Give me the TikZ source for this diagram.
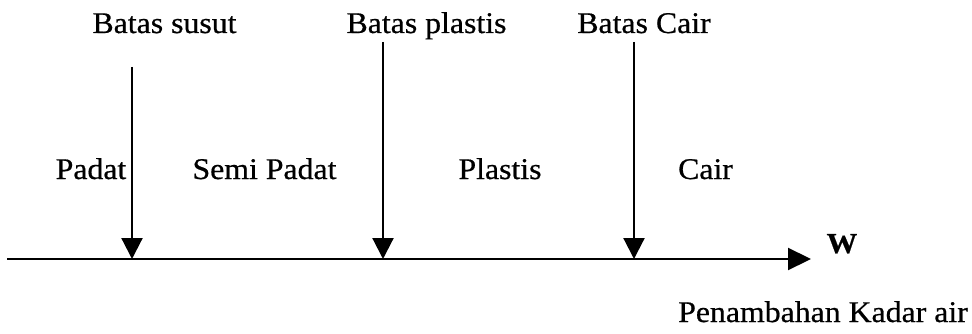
\documentclass[tikz,border=0pt]{standalone}
\usepackage{fontspec}
\setmainfont{Liberation Serif}[FakeStretch=1.06,FakeBold=0.6]
\usetikzlibrary{arrows.meta}
\begin{document}
\begin{tikzpicture}[x=1pt,y=-1pt,
  lbl/.style={inner sep=0pt,anchor=base,font=\fontsize{30}{34}\selectfont},
  axis/.style={line width=2.2pt,-{Triangle[length=23pt,width=22pt]}},
  marker/.style={line width=2.2pt,-{Triangle[length=21pt,width=21pt]}}]
\useasboundingbox (0,0) rectangle (972,334);
% coordinates
\coordinate (a0) at (7,259);
\coordinate (a1) at (811,259);
\coordinate (s1) at (132,67);
\coordinate (s2) at (132,259);
\coordinate (p1) at (383,42);
\coordinate (p2) at (383,259);
\coordinate (c1) at (634,42);
\coordinate (c2) at (634,259);
% axis and markers
\draw[axis] (a0) -- (a1);
\draw[marker] (s1) -- (s2);
\draw[marker] (p1) -- (p2);
\draw[marker] (c1) -- (c2);
% labels
\node[lbl] (bs) at (164.5,33) {Batas susut};
\node[lbl] (bp) at (426.5,33) {Batas plastis};
\node[lbl] (bc) at (644,33) {Batas Cair};
\node[lbl] (padat) at (91,179) {Padat};
\node[lbl] (semi) at (264.5,179) {Semi Padat};
\node[lbl] (plastis) at (500,179) {Plastis};
\node[lbl] (cair) at (705.5,179) {Cair};
\node[lbl,font=\fontsize{29}{34}\selectfont\bfseries] (w) at (842,253) {W};
\node[lbl] (pk) at (823,322) {Penambahan Kadar air};
\end{tikzpicture}
\end{document}
